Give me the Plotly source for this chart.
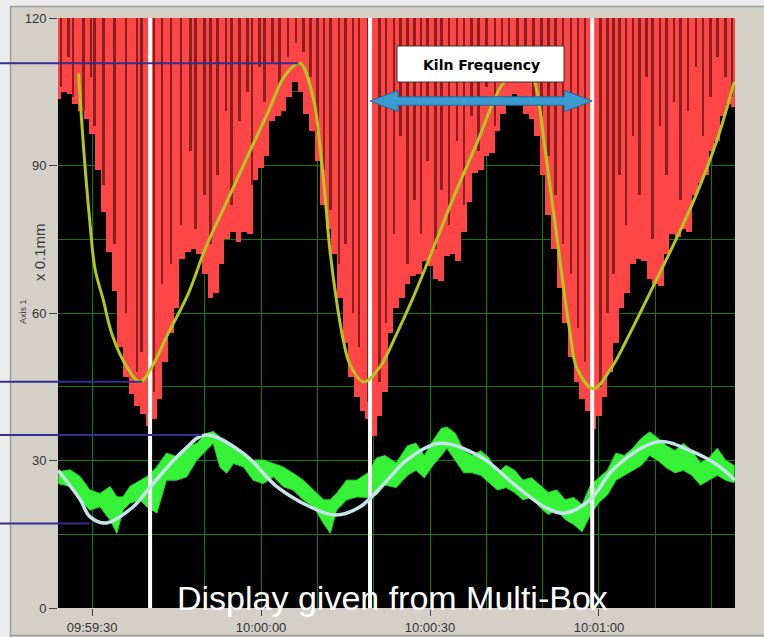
import plotly.graph_objects as go

# ---------------- data (seconds relative to 10:00:00) ----------------
tick_secs = [-30, 0, 30, 60]
tick_labels = ["09:59:30", "10:00:00", "10:00:30", "10:01:00"]
y_ticks = [0, 30, 60, 90, 120]

# red "kiln" bars: lower end of each 1-second bar (bars reach up to 120)
red_secs = list(range(-36, 85))
red_low = [103.5, 105, 104.5, 102.5, 101, 99.5, 96.5, 89, 80.5, 72.5,
           64.5, 53, 47, 43.5, 41, 39.5, 37, 38.5, 42.5, 50,
           56, 61, 71, 72.5, 73, 72, 68, 63, 64, 70,
           75, 76.5, 74.5, 76.5, 76, 87, 89.5, 92, 99, 100,
           101, 104, 107, 105, 100.5, 97, 91, 82, 77, 72,
           63, 54, 47, 43, 40, 38.5, 35, 39, 44, 56,
           61, 63, 66, 67.5, 68, 70.5, 69.5, 67, 66.5, 71.5,
           72, 70.5, 76.5, 82.5, 88.5, 89, 92, 92.5, 97, 100.5,
           104, 104.5, 104, 100.5, 99.5, 96, 88, 80, 73, 65,
           58, 51, 46, 42.5, 40, 36.5, 39, 43, 48, 54,
           61, 64, 70, 71, 70.5, 67, 66, 65.5, 72, 76,
           75.5, 77, 76.5, 84, 86.5, 88, 93, 95, 100, 102.5,
           102]

# dark red thin bars inside the red area
dark_secs = [-35.5, -34.2, -33.4, -31.5, -30.2, -29.6, -28.0, -26.0, -24.0, -22.0,
             -21.2, -19.0, -17.6, -16.0, -14.2, -12.5, -11.6, -10.0, -9.0, -7.7,
             -6.2, -5.2, -3.8, -2.4, -1.6, -0.3, 0.6, 2.0, 3.3, 4.8,
             6.2, 7.5, 8.8, 10.0, 11.2, 12.3, 13.8, 15.0, 16.3, 17.4,
             19.0, 21.0, 22.2, 23.6, 24.8, 26.0, 27.2, 28.4, 29.6, 31.0,
             32.0, 33.4, 34.8, 36.0, 37.4, 38.6, 40.0, 41.5, 42.8, 44.0,
             45.5, 47.0, 48.4, 49.8, 51.0, 52.3, 53.6, 55.0, 56.3, 57.5,
             60.3, 61.5, 62.6, 63.6, 64.8, 66.0, 67.2, 68.4, 69.5, 70.8,
             72.0, 73.3, 74.5, 75.8, 77.2, 78.5, 79.8, 81.0, 82.5, 83.6]
dark_low = [106, 112, 104, 101, 108, 98, 86, 74, 60, 48,
            52, 44, 66, 70, 78, 93, 77, 84, 74, 88,
            101, 82, 99, 105, 86, 110, 103, 111, 106, 112,
            115, 113, 108, 97, 89, 81, 70, 74, 60, 53,
            42, 46, 58, 76, 96, 70, 83, 76, 91, 73,
            85, 78, 95, 82, 100, 93, 106, 98, 112, 108,
            110, 113, 104, 100, 92, 84, 74, 68, 57, 50,
            45, 60, 68, 88, 78, 96, 84, 108, 75, 98,
            88, 103, 83, 101, 110, 96, 104, 112, 108, 104]

# noisy green signal envelope
green_secs = [-36, -33.9, -32.1, -30.4, -28.6, -26.8, -25.6, -24.5, -23.3, -21.5,
              -20.3, -18.5, -16.8, -15.0, -13.2, -11.4, -9.7, -8.5, -7.3, -6.1,
              -4.9, -3.1, -1.4, 0.4, 2.2, 3.9, 5.7, 7.5, 9.3, 11.1,
              12.3, 13.4, 15.2, 17.0,
              19, 20.5, 22, 24, 26, 27.5, 29, 30.5, 32, 33,
              34.5, 36, 37.5, 39, 40.5, 42, 43.5, 45, 46.5, 48,
              49.5, 51, 52.5, 54, 55.5, 57, 58.5, 60, 61.5, 63,
              64.5, 66, 67.5, 69, 70.5, 72, 73.5, 75, 76.5, 78,
              79.5, 81, 82.5, 84]
green_hi = [27.7, 28.1, 26.7, 24.0, 23.3, 24.7, 22.6, 22.6, 24.7, 26.0,
            26.7, 28.7, 31.5, 30.8, 32.8, 33.5, 35.5, 35.9, 34.8, 33.5,
            32.8, 31.5, 30.1, 30.1, 29.4, 28.7, 27.4, 26.0, 24.0, 22.0,
            22.0, 23.3, 26.0, 26.0,
            27.5, 30.5, 31, 29.5, 33, 33.5, 31, 34, 36.5, 36.8,
            35.5, 32, 31, 32, 30.5, 27.5, 29, 28, 26, 26.5,
            25, 23.5, 24, 22, 22.5, 21, 25, 26.5, 28, 31.5,
            31, 32.5, 34.5, 35.8, 34.5, 33, 32, 33.5, 32, 29.5,
            30.5, 32.5, 30, 29]
green_lo = [25.3, 24.7, 22.0, 19.9, 20.6, 17.9, 15.2, 19.9, 21.3, 22.0,
            20.6, 19.3, 26.0, 26.0, 26.7, 30.1, 32.1, 33.5, 28.7, 27.4,
            29.4, 28.7, 26.0, 25.3, 26.7, 24.7, 24.0, 22.0, 20.6, 17.2,
            15.2, 19.9, 22.0, 22.6,
            22.5, 23, 25, 24.5, 27, 28, 26.5, 29, 31, 32.5,
            30, 27.5, 27.5, 27, 25.5, 24, 24.5, 23.5, 22, 22.5,
            20.5, 19, 20, 18, 17, 15.5, 19, 21.5, 23, 26,
            27, 28, 29, 31, 30, 28.5, 27.5, 28, 27, 25,
            26, 27, 26, 25.5]

# smooth yellow fitted curve
yellow_secs = [-32.4, -31.5, -30.4, -29.5, -28.0, -26.5, -23.8, -21.5, -19.4, -16.5,
               -12.9, -9.9, -5.8, -2.3, 1.3, 4.3, 6.9, 9.3, 10.5, 11.4,
               12.2, 13.4, 14.6, 15.8, 18.2, 21.1, 24.1, 26.8, 30.0, 34.1,
               38.3, 42.4, 45.0, 46.8, 48.6, 50.4, 51.6, 52.8, 54.0, 54.9,
               56.0, 59.0, 62.3, 65.2, 68.8, 72.9, 77.0, 81.2, 84.0]
yellow_vals = [108.7, 93.5, 78.6, 69.1, 62.6, 55.8, 49.0, 46.0, 49.0, 55.8,
               64.0, 73.1, 83.3, 92.1, 101.0, 108.4, 110.8, 103.6, 93.5, 83.3,
               73.1, 62.5, 54.5, 49.5, 46.0, 49.0, 55.8, 62.6, 71.5, 83.3,
               94.5, 105.7, 109.5, 111.0, 107.0, 93.5, 83.3, 73.1, 62.6, 55.8,
               49.0, 44.6, 49.0, 55.2, 63.5, 73.1, 83.3, 96.0, 107.0]

# smooth pale curve through the green signal
white_secs = [-36.0, -32.1, -30.4, -27.5, -22.7, -19.7, -13.8, -9.9, -3.2, 2.8,
              8.7, 13.1, 17.6, 22.0, 25.9, 31.8, 38.9, 45.1, 50.4, 54.0,
              58.4, 62.8, 70.5, 76.2, 81.1, 84.1]
white_vals = [28.0, 22.0, 18.6, 17.3, 20.6, 24.6, 32.0, 35.2, 31.5, 24.7,
              20.6, 18.9, 20.6, 25.5, 30.1, 33.5, 30.8, 25.0, 20.5, 19.3,
              22.0, 28.5, 33.8, 32.0, 29.0, 26.0]

# white cycle markers
marker_secs = [-19.7, 19.35, 58.8]

# blue guide lines (level, end time)
guide_levels = [110.8, 46.0, 35.2, 17.2]
guide_ends = [6.6, -21.1, -10.5, -30.4]

# ---------------- layout helpers ----------------
W, H = 764, 637
L, R, T, B = 58, 29, 18, 29
PW = W - L - R
PH = H - T - B
X0, X1 = -36.05, 84.15
Y0, Y1 = 0, 120


def px_x(px):
    return (px - L) / PW


def px_y(py):
    return (H - B - py) / PH


def tx(t):
    return (t - X0) / (X1 - X0)


def vy(v):
    return (v - Y0) / (Y1 - Y0)


def t_px(t):
    return L + tx(t) * PW


GRID = "#0c7a0c"
NARROW = "Liberation Sans Narrow, Arial Narrow, Liberation Sans, Arial"
SANS = "Liberation Sans, Arial, Helvetica"

fig = go.Figure()

fig.add_trace(go.Bar(x=red_secs, y=[Y1 - v for v in red_low], base=red_low,
                     width=1.0, marker=dict(color="#ff4646", line=dict(width=0)),
                     hoverinfo="skip"))
fig.add_trace(go.Bar(x=dark_secs, y=[Y1 - v for v in dark_low], base=dark_low,
                     width=0.45, marker=dict(color="#8a1f1f", line=dict(width=0)),
                     hoverinfo="skip"))
fig.add_trace(go.Scatter(x=green_secs + green_secs[::-1],
                         y=green_hi + green_lo[::-1],
                         fill="toself", fillcolor="#36f236", mode="lines",
                         line=dict(color="#2add2a", width=1), hoverinfo="skip"))
mx, my = [], []
for m in marker_secs:
    mx += [m, m, None]
    my += [Y0, Y1, None]
fig.add_trace(go.Scatter(x=mx, y=my, mode="lines",
                         line=dict(color="white", width=4), hoverinfo="skip"))
fig.add_trace(go.Scatter(x=yellow_secs, y=yellow_vals, mode="lines",
                         line=dict(color="#b2c81e", width=3, shape="spline", smoothing=1.0),
                         hoverinfo="skip"))
fig.add_trace(go.Scatter(x=white_secs, y=white_vals, mode="lines",
                         line=dict(color="#c6e2ea", width=3.5, shape="spline", smoothing=1.0),
                         hoverinfo="skip"))

shapes = []
# outer frame
shapes.append(dict(type="rect", xref="paper", yref="paper", x0=px_x(0), x1=px_x(10),
                   y0=px_y(H), y1=px_y(0), fillcolor="#ececec", line=dict(width=0)))
shapes.append(dict(type="rect", xref="paper", yref="paper", x0=px_x(0), x1=px_x(W),
                   y0=px_y(6), y1=px_y(0), fillcolor="#ececec", line=dict(width=0)))
shapes.append(dict(type="line", xref="paper", yref="paper", x0=px_x(10.5), x1=px_x(10.5),
                   y0=px_y(6), y1=px_y(H), line=dict(color="#9c9c9c", width=1.5)))
shapes.append(dict(type="line", xref="paper", yref="paper", x0=px_x(10), x1=px_x(W),
                   y0=px_y(6.5), y1=px_y(6.5), line=dict(color="#9c9c9c", width=1.5)))
shapes.append(dict(type="line", xref="paper", yref="paper", x0=px_x(10), x1=px_x(W),
                   y0=px_y(635.5), y1=px_y(635.5), line=dict(color="#9c9c9c", width=1.5)))
# blue guide lines
for lvl, end in zip(guide_levels, guide_ends):
    shapes.append(dict(type="line", xref="paper", yref="paper", x0=px_x(0), x1=tx(end),
                       y0=vy(lvl), y1=vy(lvl), line=dict(color="#2e3192", width=2)))
# Kiln Frequency box
shapes.append(dict(type="rect", xref="paper", yref="paper", x0=px_x(397), x1=px_x(564),
                   y0=px_y(82), y1=px_y(46), fillcolor="white",
                   line=dict(color="#333333", width=1)))
# double arrow between markers 2 and 3
xl, xr = t_px(marker_secs[1]), t_px(marker_secs[2])
cy, hh, sh, hl = 101, 10.6, 4.2, 28
pts = [(xl, cy), (xl + hl, cy - hh), (xl + hl, cy - sh), (xr - hl, cy - sh),
       (xr - hl, cy - hh), (xr, cy), (xr - hl, cy + hh), (xr - hl, cy + sh),
       (xl + hl, cy + sh), (xl + hl, cy + hh)]
path = "M " + " L ".join(f"{px_x(x):.5f},{px_y(y):.5f}" for x, y in pts) + " Z"
shapes.append(dict(type="path", xref="paper", yref="paper", path=path,
                   fillcolor="#3a9bd2", line=dict(color="#1d6a9a", width=1)))

annotations = [
    dict(text="<b>Kiln Frequency</b>", xref="paper", yref="paper", x=px_x(481), y=px_y(65),
         showarrow=False, font=dict(family="DejaVu Sans, Verdana", size=14, color="black"),
         xanchor="center", yanchor="middle"),
    dict(text="Display given from Multi-Box", xref="paper", yref="paper",
         x=px_x(392.5), y=px_y(598), showarrow=False,
         font=dict(family=SANS, size=34, color="white"), xanchor="center", yanchor="middle"),
    dict(text="x 0.1mm", xref="paper", yref="paper", x=px_x(40), y=px_y(252),
         showarrow=False, textangle=-90, font=dict(family=SANS, size=15, color="#3a3a3a"),
         xanchor="center", yanchor="middle"),
    dict(text="Axis 1", xref="paper", yref="paper", x=px_x(23), y=px_y(312),
         showarrow=False, textangle=-90, font=dict(family=SANS, size=9, color="#444444"),
         xanchor="center", yanchor="middle"),
]

fig.update_layout(
    width=W, height=H, autosize=False,
    margin=dict(l=L, r=R, t=T, b=B, pad=0, autoexpand=False),
    paper_bgcolor="#d4d0c8", plot_bgcolor="black",
    barmode="overlay", bargap=0, showlegend=False,
    shapes=shapes, annotations=annotations,
    xaxis=dict(range=[X0, X1], tickmode="array", tickvals=tick_secs, ticktext=tick_labels,
               automargin=False,
               ticks="outside", ticklen=7, tickcolor="#444444", tickwidth=1,
               showgrid=True, gridcolor=GRID, gridwidth=1, zeroline=False, showline=False,
               tickfont=dict(family=NARROW, size=13, color="#333333"),
               minor=dict(tickmode="array", tickvals=list(range(-30, 85, 10)),
                          showgrid=True, gridcolor=GRID, gridwidth=1, ticks="")),
    yaxis=dict(range=[Y0, Y1], tickmode="array", tickvals=y_ticks, automargin=False,
               ticks="outside", ticklen=8, tickcolor="#444444", tickwidth=1,
               showgrid=True, gridcolor=GRID, gridwidth=1, zeroline=False, showline=False,
               tickfont=dict(family=NARROW, size=13, color="#333333"),
               minor=dict(dtick=15, tick0=0, showgrid=True, gridcolor=GRID, gridwidth=1,
                          ticks="")),
)

fig.write_html("out.html", config={"displayModeBar": False},
               post_script="document.body.style.margin='0';document.body.style.overflow='hidden';")
